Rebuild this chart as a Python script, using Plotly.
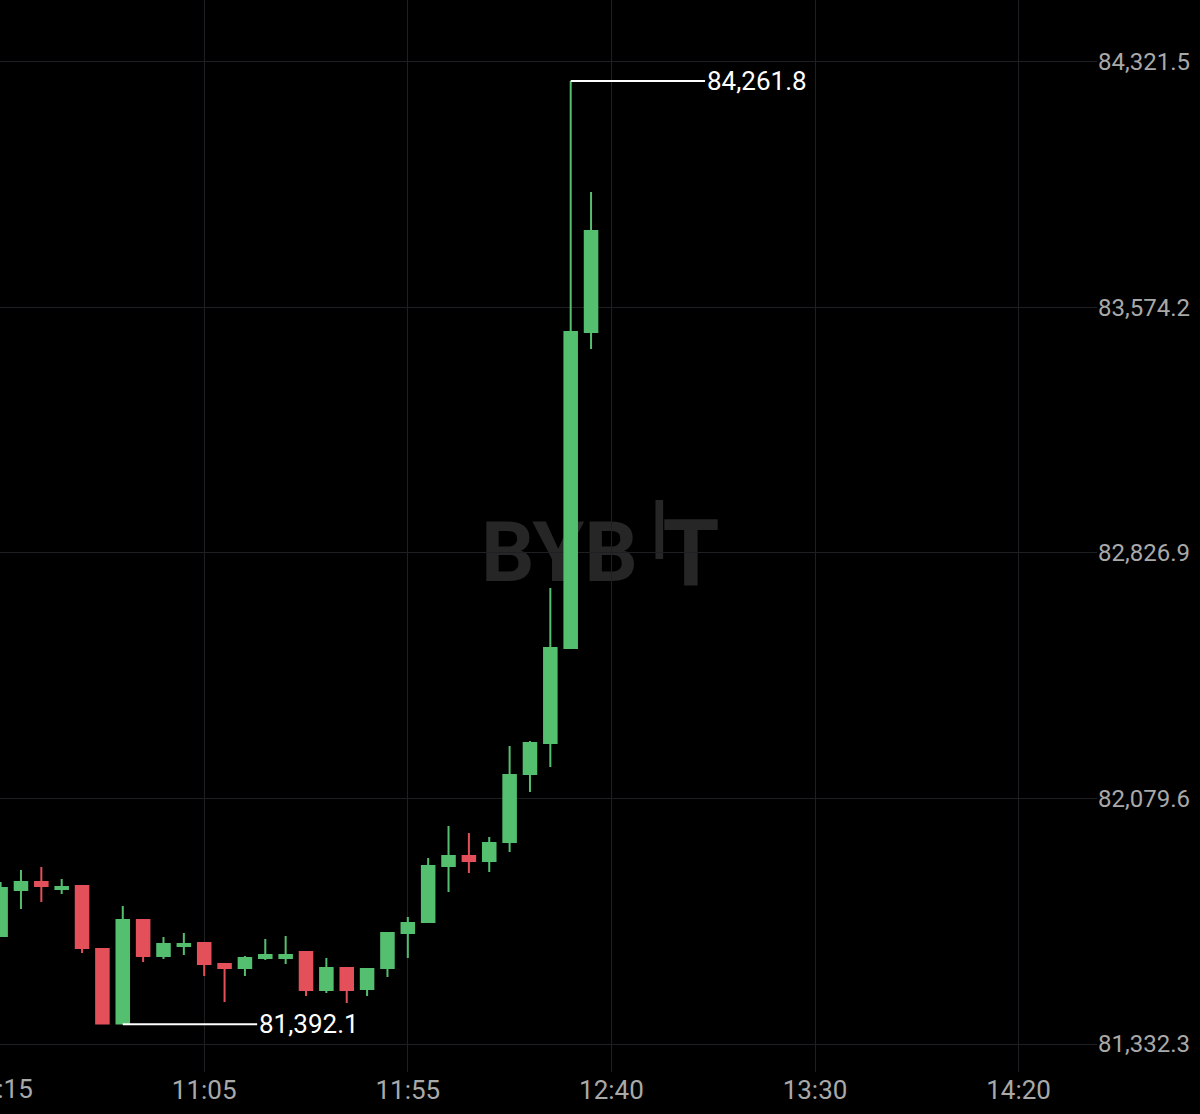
import plotly.graph_objects as go

# ---- data (5-minute candles) ----
candle_idx = list(range(30))
opens = [81660.9, 81800.9, 81825.2, 81803.9, 81813.0, 81621.4, 81395.0, 81709.6, 81600.1, 81630.5,
         81639.6, 81575.7, 81563.6, 81594.0, 81594.0, 81612.2, 81496.6, 81563.6, 81499.7, 81563.6,
         81670.0, 81703.5, 81873.9, 81904.3, 81889.1, 81946.9, 82153.8, 82248.1, 82537.1, 83498.5]
highs = [81825.2, 81861.7, 81870.8, 81834.3, 81813.0, 81621.4, 81752.2, 81709.6, 81657.9, 81670.0,
         81639.6, 81575.7, 81600.1, 81651.8, 81660.9, 81612.2, 81594.0, 81563.6, 81560.5, 81670.0,
         81718.7, 81898.2, 81995.6, 81974.3, 81962.1, 82239.0, 82254.2, 82719.7, 84261.8, 83924.5]
lows = [81660.9, 81743.1, 81764.4, 81788.7, 81609.2, 81395.0, 81392.1, 81581.8, 81590.9, 81603.1,
        81539.2, 81460.1, 81539.2, 81587.9, 81575.7, 81478.4, 81487.5, 81457.1, 81478.4, 81536.2,
        81594.0, 81703.5, 81794.8, 81852.6, 81855.6, 81916.5, 82099.0, 82175.1, 82534.1, 83446.8]
closes = [81806.9, 81825.2, 81813.0, 81810.0, 81624.4, 81395.0, 81709.6, 81600.1, 81636.6, 81636.6,
          81575.7, 81563.6, 81594.0, 81603.1, 81603.1, 81496.6, 81563.6, 81496.6, 81560.5, 81670.0,
          81700.5, 81873.9, 81904.3, 81889.1, 81943.9, 82150.7, 82248.1, 82537.1, 83498.5, 83805.8]

x_tick_pos = [0, 10, 20, 30, 40, 50]
x_tick_labels = ["10:15", "11:05", "11:55", "12:40", "13:30", "14:20"]
y_tick_vals = [81332.3, 82079.6, 82826.9, 83574.2, 84321.5]

GREEN = "#55bf70"
RED = "#e3505a"
TICK_COLOR = "#a9a9a9"

fig = go.Figure()
fig.add_trace(go.Candlestick(
    x=candle_idx, open=opens, high=highs, low=lows, close=closes,
    increasing=dict(line=dict(color=GREEN, width=2), fillcolor=GREEN),
    decreasing=dict(line=dict(color=RED, width=2), fillcolor=RED),
    whiskerwidth=0, showlegend=False, hoverinfo="skip",
))

# high / low markers
i_hi = max(range(len(highs)), key=lambda i: highs[i])
i_lo = min(range(len(lows)), key=lambda i: lows[i])
hi_val, lo_val = highs[i_hi], lows[i_lo]
mark_len = 6.6
for i, v in [(i_hi, hi_val), (i_lo, lo_val)]:
    fig.add_shape(type="line", x0=i, x1=i + mark_len, y0=v, y1=v,
                  line=dict(color="white", width=2), layer="above")
    fig.add_annotation(x=i + mark_len, y=v, text=f"{v:,.1f}", showarrow=False,
                       xanchor="left", yanchor="middle", xshift=0,
                       font=dict(family="Roboto", size=26, color="white"))

# first time label (at the very left edge, partly cut off like the original)
fig.add_annotation(x=x_tick_pos[0], xref="x", y=0, yref="paper", text=x_tick_labels[0],
                   showarrow=False, xanchor="center", yanchor="top", yshift=0,
                   font=dict(family="Roboto", size=26, color=TICK_COLOR))

# watermark (below gridlines)
wm_color = "#262626"
fig.add_shape(type="rect", xref="paper", yref="paper", x0=0.40, x1=0.62, y0=0.44, y1=0.54,
              line=dict(width=0), fillcolor="rgba(0,0,0,0)", layer="below",
              label=dict(text="<b>BYB</b>", textposition="middle center",
                         font=dict(family="Roboto", size=84, color=wm_color)))
fig.add_shape(type="rect", xref="paper", yref="paper", x0=0.5975, x1=0.6045, y0=0.4785, y1=0.5336,
              line=dict(width=0), fillcolor=wm_color, layer="below")
fig.add_shape(type="rect", xref="paper", yref="paper", x0=0.595, x1=0.665, y0=0.44, y1=0.54,
              line=dict(width=0), fillcolor="rgba(0,0,0,0)", layer="below",
              label=dict(text="<b>T</b>", textposition="middle center",
                         font=dict(family="Roboto", size=92, color=wm_color)))

grid = "#1e1f23"
fig.update_layout(
    width=1200, height=1114,
    margin=dict(l=0, r=103, t=0, b=42),
    paper_bgcolor="black", plot_bgcolor="black",
    boxgap=0.12,
    showlegend=False,
    xaxis=dict(range=[-0.03, 53.85], tickvals=x_tick_pos[1:], ticktext=x_tick_labels[1:],
               showgrid=True, gridcolor=grid, gridwidth=1, zeroline=False,
               showline=False, ticks="", rangeslider=dict(visible=False),
               tickfont=dict(family="Roboto", size=26, color=TICK_COLOR)),
    yaxis=dict(range=[81247.1, 84508.6], side="right", tickvals=y_tick_vals,
               tickformat=",.1f", showgrid=True, gridcolor=grid, gridwidth=1,
               zeroline=False, showline=False, ticks="",
               tickfont=dict(family="Roboto", size=24, color=TICK_COLOR)),
)

fig.write_html("out.html", config={"displayModeBar": False},
               post_script="document.body.style.margin='0';document.body.style.background='black';")
